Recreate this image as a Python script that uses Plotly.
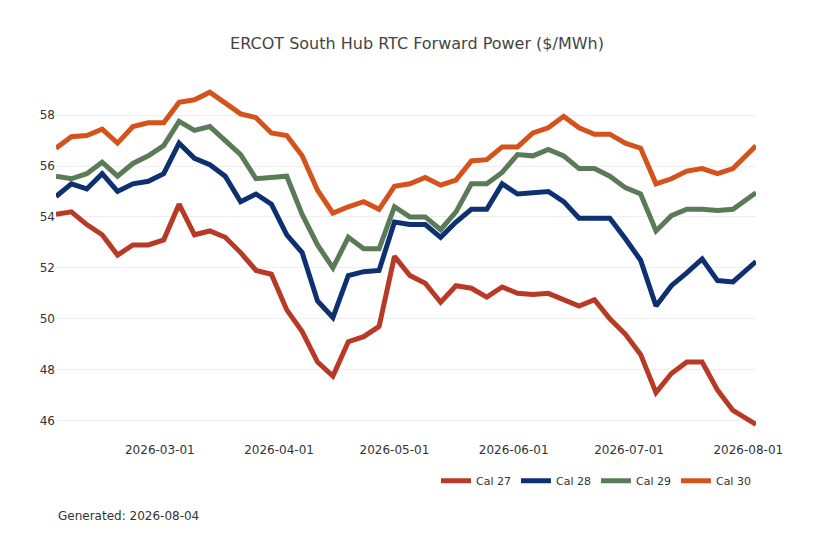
import plotly.graph_objects as go

dates = ["2026-02-02", "2026-02-06", "2026-02-10", "2026-02-14", "2026-02-18", "2026-02-22",
         "2026-02-26", "2026-03-02", "2026-03-06", "2026-03-10", "2026-03-14", "2026-03-18",
         "2026-03-22", "2026-03-26", "2026-03-30", "2026-04-03", "2026-04-07", "2026-04-11",
         "2026-04-15", "2026-04-19", "2026-04-23", "2026-04-27", "2026-05-01", "2026-05-05",
         "2026-05-09", "2026-05-13", "2026-05-17", "2026-05-21", "2026-05-25", "2026-05-29",
         "2026-06-02", "2026-06-06", "2026-06-10", "2026-06-14", "2026-06-18", "2026-06-22",
         "2026-06-26", "2026-06-30", "2026-07-04", "2026-07-08", "2026-07-12", "2026-07-16",
         "2026-07-20", "2026-07-24", "2026-07-28", "2026-08-03"]

cal27 = [54.1, 54.2, 53.7, 53.3, 52.5, 52.9, 52.9, 53.1, 54.5, 53.3, 53.45, 53.2,
         52.6, 51.9, 51.75, 50.35, 49.5, 48.3, 47.75, 49.1, 49.3, 49.7, 52.45, 51.7,
         51.4, 50.65, 51.3, 51.2, 50.85, 51.25, 51.0, 50.95, 51.0, 50.75, 50.5, 50.75,
         50.0, 49.4, 48.6, 47.1, 47.85, 48.3, 48.3, 47.2, 46.4, 45.85]
cal28 = [54.8, 55.3, 55.1, 55.7, 55.0, 55.3, 55.4, 55.7, 56.9, 56.3, 56.05, 55.6,
         54.6, 54.9, 54.5, 53.3, 52.6, 50.7, 50.05, 51.7, 51.85, 51.9, 53.8, 53.7,
         53.7, 53.2, 53.8, 54.3, 54.3, 55.3, 54.9, 54.95, 55.0, 54.6, 53.95, 53.95,
         53.95, 53.15, 52.3, 50.5, 51.3, 51.8, 52.35, 51.5, 51.45, 52.25]
cal29 = [55.6, 55.5, 55.7, 56.15, 55.6, 56.1, 56.4, 56.8, 57.75, 57.4, 57.55, 57.0,
         56.45, 55.5, 55.55, 55.6, 54.1, 52.9, 52.0, 53.2, 52.75, 52.75, 54.4, 54.0,
         54.0, 53.5, 54.2, 55.3, 55.3, 55.75, 56.45, 56.4, 56.65, 56.4, 55.9, 55.9,
         55.6, 55.15, 54.9, 53.45, 54.05, 54.3, 54.3, 54.25, 54.3, 54.95]
cal30 = [56.7, 57.15, 57.2, 57.45, 56.9, 57.55, 57.7, 57.7, 58.5, 58.6, 58.9, 58.5,
         58.05, 57.9, 57.3, 57.2, 56.4, 55.05, 54.15, 54.4, 54.6, 54.3, 55.2, 55.3,
         55.55, 55.25, 55.45, 56.2, 56.25, 56.75, 56.75, 57.3, 57.5, 57.95, 57.5, 57.25,
         57.25, 56.9, 56.7, 55.3, 55.5, 55.8, 55.9, 55.7, 55.9, 56.8]

series = [("Cal 27", cal27, "#b83a26"), ("Cal 28", cal28, "#0d3070"),
          ("Cal 29", cal29, "#5b7a58"), ("Cal 30", cal30, "#d4531c")]

fig = go.Figure()
for name, vals, color in series:
    fig.add_trace(go.Scatter(x=dates, y=vals, name=name, mode="lines",
                             line=dict(color=color, width=5)))

fig.update_layout(
    width=818, height=545,
    title=dict(text="ERCOT South Hub RTC Forward Power ($/MWh)", x=0.5, y=0.945,
               font=dict(size=16, color="#444")),
    plot_bgcolor="white", paper_bgcolor="white",
    font=dict(family="DejaVu Sans", size=12, color="#333"),
    margin=dict(l=48, r=70, t=74, b=112),
    xaxis=dict(showgrid=False, tickformat="%Y-%m-%d", dtick="M1", tick0="2026-03-01",
               range=["2026-02-02", "2026-08-03"], zeroline=False),
    yaxis=dict(showgrid=True, gridcolor="#eeeeee", range=[45.2, 59.3], dtick=2, zeroline=False),
    legend=dict(orientation="h", x=1, xanchor="right", y=-0.07, yanchor="top",
                font=dict(size=11)),
)
fig.add_annotation(text="Generated: 2026-08-04", xref="paper", yref="paper",
                   x=0, y=-0.185, xanchor="left", yanchor="top", showarrow=False,
                   font=dict(size=12))

fig.write_html("out.html")
